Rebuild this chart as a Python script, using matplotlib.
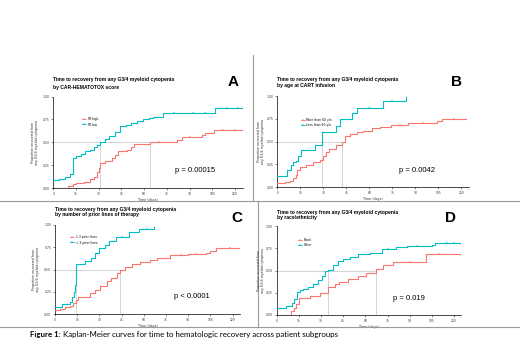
import numpy as np
import matplotlib
matplotlib.use("Agg")
import matplotlib.pyplot as plt
from matplotlib.lines import Line2D

W, H = 520, 345
RED = "#F8766D"
TEAL = "#00BFC4"
MEDC = "#C4C4C4"

x_ticks = [0, 15, 30, 45, 60, 75, 90, 105, 120]
y_ticks = [0.0, 0.25, 0.5, 0.75, 1.0]
y_ticklabels = ["0.00", "0.25", "0.50", "0.75", "1.00"]
x_label = "Time (days)"
y_label = "Proportion recovered from\nany G3/4 myeloid cytopenia"
title_line1 = "Time to recovery from any G3/4 myeloid cytopenia"

# ---------------- Panel A ----------------
a_title2 = "by CAR-HEMATOTOX score"
a_labels = ["HT-high", "HT-low"]
a_red_t = [0, 10, 13, 15, 20, 24, 27, 29, 30, 31, 34, 38.5, 41, 43, 48.5, 51, 53, 64, 81.5, 85, 98, 100.5, 106]
a_red_y = [0.0, 0.02, 0.04, 0.05, 0.07, 0.10, 0.12, 0.17, 0.22, 0.27, 0.30, 0.33, 0.36, 0.40, 0.42, 0.45, 0.48, 0.50, 0.53, 0.56, 0.58, 0.60, 0.63]
a_red_end = 125
a_teal_t = [0, 4, 8, 11, 13, 15, 18, 21, 24, 27, 29, 31, 34, 37, 41, 44, 48, 51, 55, 59, 63, 66, 72.5, 107]
a_teal_y = [0.09, 0.10, 0.12, 0.15, 0.33, 0.35, 0.37, 0.40, 0.42, 0.45, 0.47, 0.50, 0.54, 0.57, 0.61, 0.68, 0.69, 0.71, 0.73, 0.75, 0.77, 0.78, 0.82, 0.87]
a_teal_end = 125
a_red_cens = [70, 90, 112, 120]
a_teal_cens = [80, 92, 100, 115, 122]
a_medians = [31, 64]
a_p = "p = 0.00015"

# ---------------- Panel B ----------------
b_title2 = "by age at CART infusion"
b_labels = ["More than 60 y/o", "Less than 60 y/o"]
b_red_t = [0, 5, 8, 10.5, 12, 13, 14.5, 19, 23.5, 28, 30, 32, 34, 38, 42, 44, 47.5, 52, 56, 62, 67, 74, 85, 91, 104, 107.5]
b_red_y = [0.04, 0.05, 0.07, 0.095, 0.13, 0.19, 0.22, 0.24, 0.27, 0.30, 0.34, 0.39, 0.42, 0.46, 0.50, 0.56, 0.58, 0.60, 0.62, 0.645, 0.66, 0.685, 0.70, 0.705, 0.72, 0.745]
b_red_end = 123
b_teal_t = [0, 6, 9, 10.5, 12, 13.8, 15.3, 24.7, 29, 38.3, 41, 48.5, 52, 68.7, 83.7]
b_teal_y = [0.12, 0.19, 0.24, 0.27, 0.29, 0.34, 0.41, 0.46, 0.60, 0.67, 0.745, 0.81, 0.87, 0.945, 0.99]
b_teal_end = 83.7
b_red_cens = [80, 95, 115]
b_teal_cens = [60, 75]
b_medians = [29, 42]
b_p = "p = 0.0042"

# ---------------- Panel C ----------------
c_title2 = "by number of prior lines of therapy"
c_labels = ["1-3 prior lines", "> 3 prior lines"]
c_red_t = [0, 3.5, 7, 10, 12.4, 14.2, 15.8, 23.6, 27, 30.4, 35, 38, 41.7, 44, 47.3, 51.8, 57.4, 64, 68.7, 77.7, 90, 102, 104.7, 109]
c_red_y = [0.05, 0.06, 0.075, 0.09, 0.12, 0.16, 0.19, 0.24, 0.27, 0.32, 0.37, 0.41, 0.46, 0.50, 0.53, 0.56, 0.58, 0.61, 0.625, 0.66, 0.675, 0.68, 0.71, 0.745]
c_red_end = 126
c_teal_t = [0, 5, 10, 11.5, 12.5, 13.3, 14, 20.5, 24, 27, 30, 34, 36.5, 41, 50, 57, 67]
c_teal_y = [0.075, 0.11, 0.14, 0.19, 0.25, 0.33, 0.56, 0.60, 0.63, 0.68, 0.74, 0.78, 0.82, 0.87, 0.92, 0.95, 0.98]
c_teal_end = 67
c_red_cens = [85, 95, 118]
c_teal_cens = [45, 62]
c_medians = [14, 44]
c_p = "p < 0.0001"

# ---------------- Panel D ----------------
d_title2 = "by race/ethnicity"
d_labels = ["Black", "Other"]
d_red_t = [0, 10, 11.5, 13, 15, 22.5, 29, 35, 39.5, 42.5, 48, 55, 60.5, 67.5, 72, 78.5, 101]
d_red_y = [0.0, 0.04, 0.08, 0.12, 0.19, 0.21, 0.25, 0.31, 0.345, 0.375, 0.40, 0.44, 0.47, 0.52, 0.56, 0.60, 0.69]
d_red_end = 124
d_teal_t = [0, 6.3, 10.2, 12, 13.5, 16, 18, 21.4, 24.8, 28, 30.5, 32.7, 35, 38.4, 41.8, 45, 49.7, 55, 63, 71, 81, 88, 105, 107]
d_teal_y = [0.075, 0.10, 0.13, 0.18, 0.26, 0.28, 0.29, 0.32, 0.35, 0.39, 0.44, 0.49, 0.51, 0.56, 0.61, 0.63, 0.655, 0.68, 0.70, 0.74, 0.76, 0.775, 0.79, 0.81]
d_teal_end = 124.6
d_red_cens = [90, 110]
d_teal_cens = [75, 95, 115, 120]
d_medians = [35, 67.5]
d_p = "p = 0.019"

fig = plt.figure(figsize=(W / 100, H / 100), dpi=100)
fig.patch.set_facecolor("white")


def fx(x):
    return x / W


def fy(y):
    return 1 - y / H


def add_ax(left, top, right, bottom):
    return fig.add_axes([fx(left), fy(bottom), (right - left) / W, (bottom - top) / H])


def step_vals(t, y, q):
    i = np.searchsorted(np.asarray(t), q, side="right") - 1
    return np.asarray(y)[i]


def panel(box, data, texts):
    ax = add_ax(*box)
    (rt, ry, rend, rc), (tt, ty, tend, tc), meds, labels = data
    med_max = max(meds)
    ax.plot([0, med_max], [0.5, 0.5], color=MEDC, lw=0.5, zorder=1)
    for m in meds:
        ax.plot([m, m], [0, 0.5], color=MEDC, lw=0.5, zorder=1)
    for t, y, end, c, col in [(rt, ry, rend, rc, RED), (tt, ty, tend, tc, TEAL)]:
        ax.step(list(t) + [end], list(y) + [y[-1]], where="post", color=col, lw=0.8, zorder=3)
        ax.plot(c, step_vals(t, y, c), ls="none", marker="+", ms=1.6, mew=0.35, color=col, zorder=3)
    ax.set_xlim(0, 125)
    ax.set_ylim(0, 1.0)
    ax.set_xticks(x_ticks)
    ax.set_xticklabels([str(v) for v in x_ticks])
    ax.set_yticks(y_ticks)
    ax.set_yticklabels(y_ticklabels)
    ax.tick_params(length=1.5, width=0.4, labelsize=2.2, pad=1.2, colors="#333333")
    for s in ["top", "right"]:
        ax.spines[s].set_visible(False)
    for s in ["left", "bottom"]:
        ax.spines[s].set_linewidth(0.5)
    ax.set_facecolor("white")
    ax.set_xlabel(x_label, fontsize=2.4, labelpad=1.5, color="#333333")
    (t1x, t1y, t2y, title2), (lx, ly), (px, py, ptxt), (letx, lety, let), (ylx, xl_y) = texts
    fig.text(fx(t1x), fy(t1y), title_line1, fontsize=3.6, fontweight="bold", family="Liberation Sans", va="center", ha="left")
    fig.text(fx(t1x), fy(t2y), title2, fontsize=3.6, fontweight="bold", family="Liberation Sans", va="center", ha="left")
    fig.text(fx(px), fy(py), ptxt, fontsize=5.5, family="Liberation Sans", va="center", ha="left")
    fig.text(fx(letx), fy(lety), let, fontsize=11, fontweight="bold", family="Liberation Sans", va="center", ha="center")
    cy = (box[1] + box[3]) / 2
    fig.text(fx(ylx), fy(cy), y_label, fontsize=2.3, rotation=90, va="center", ha="center", color="#333333", linespacing=1.3)
    handles = [Line2D([], [], color=RED, lw=0.6, marker="+", ms=1.4, mew=0.3),
               Line2D([], [], color=TEAL, lw=0.6, marker="+", ms=1.4, mew=0.3)]
    fig.legend(handles, labels, loc="center left", bbox_to_anchor=(fx(lx), fy(ly)),
               bbox_transform=fig.transFigure, frameon=False, fontsize=2.2,
               handlelength=1.3, handletextpad=0.5, labelspacing=0.35, borderpad=0, borderaxespad=0)
    return ax


panel((53.3, 96.5, 242.6, 188),
      [(a_red_t, a_red_y, a_red_end, a_red_cens), (a_teal_t, a_teal_y, a_teal_end, a_teal_cens), a_medians, a_labels],
      [(53, 80, 87.3, a_title2), (82, 122), (175, 170, a_p), (233, 81.5, "A"), (35, None)])
panel((277.3, 96, 469, 187),
      [(b_red_t, b_red_y, b_red_end, b_red_cens), (b_teal_t, b_teal_y, b_teal_end, b_teal_cens), b_medians, b_labels],
      [(277, 79.3, 85.7, b_title2), (301, 122.3), (399, 170, b_p), (456.7, 82, "B"), (261, None)])
panel((55, 225, 240, 314),
      [(c_red_t, c_red_y, c_red_end, c_red_cens), (c_teal_t, c_teal_y, c_teal_end, c_teal_cens), c_medians, c_labels],
      [(55, 209, 214.5, c_title2), (70, 240), (174, 297, c_p), (236.7, 218.5, "C"), (36, None)])
panel((276.7, 226, 461.4, 315),
      [(d_red_t, d_red_y, d_red_end, d_red_cens), (d_teal_t, d_teal_y, d_teal_end, d_teal_cens), d_medians, d_labels],
      [(277, 212.7, 217.9, d_title2), (298, 242.3), (393, 298, d_p), (450.7, 218.5, "D"), (261, None)])

# panel dividers
DIV = "#9A9A9A"
fig.add_artist(Line2D([fx(253), fx(253)], [fy(55), fy(201)], color=DIV, lw=0.8))
fig.add_artist(Line2D([fx(258), fx(258)], [fy(201), fy(327)], color=DIV, lw=0.8))
fig.add_artist(Line2D([0, 1], [fy(201), fy(201)], color=DIV, lw=0.8))
fig.add_artist(Line2D([0, 1], [fy(327), fy(327)], color=DIV, lw=0.8))

# caption
cap_bold = "Figure 1:"
cap_rest = " Kaplan-Meier curves for time to hematologic recovery across patient subgroups"
t1 = fig.text(fx(30), fy(334.5), cap_bold, fontsize=5.7, fontweight="bold", family="Lato", va="center", ha="left")
fig.canvas.draw()
bb = t1.get_window_extent()
fig.text(bb.x1 / W, fy(334.5), cap_rest, fontsize=5.7, family="Lato", va="center", ha="left")

fig.savefig("out.png", dpi=100, facecolor="white")
